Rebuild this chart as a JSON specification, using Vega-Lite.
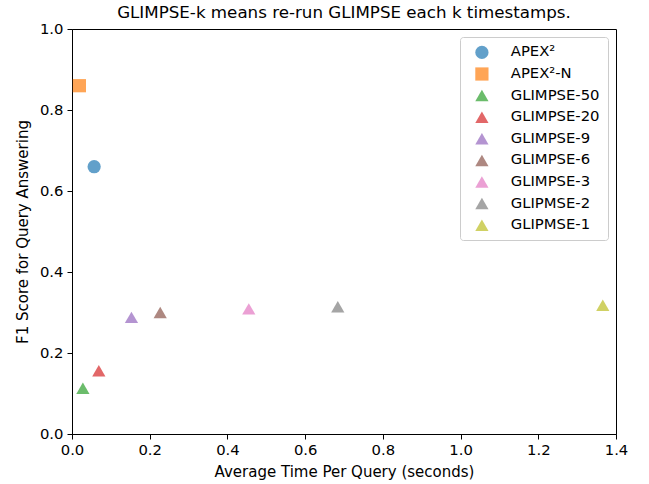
{
  "$schema": "https://vega.github.io/schema/vega-lite/v6.json",
  "autosize": "none",
  "width": 544,
  "height": 405,
  "padding": {"left": 72, "top": 29, "right": 33, "bottom": 50},
  "background": "white",
  "config": {
    "font": "DejaVu Sans",
    "view": {"stroke": "black", "strokeWidth": 1},
    "axis": {
      "grid": false,
      "domainColor": "black",
      "tickColor": "black",
      "tickSize": 5,
      "labelFontSize": 14.8,
      "labelColor": "black",
      "titleFontSize": 15,
      "titleFontWeight": "normal",
      "titleColor": "black",
      "labelPadding": 3,
      "labelFlush": false
    }
  },
  "title": {
    "text": "GLIMPSE-k means re-run GLIMPSE each k timestamps.",
    "fontSize": 16.7,
    "fontWeight": "normal",
    "color": "black",
    "offset": -1,
    "anchor": "middle"
  },
  "data": {
    "values": [
      {"method": "APEX²", "time": 0.057, "f1": 0.66},
      {"method": "APEX²-N", "time": 0.019, "f1": 0.86},
      {"method": "GLIMPSE-50", "time": 0.028, "f1": 0.113},
      {"method": "GLIMPSE-20", "time": 0.069, "f1": 0.156},
      {"method": "GLIMPSE-9", "time": 0.153, "f1": 0.288},
      {"method": "GLIMPSE-6", "time": 0.227, "f1": 0.300},
      {"method": "GLIMPSE-3", "time": 0.455, "f1": 0.309},
      {"method": "GLIPMSE-2", "time": 0.684, "f1": 0.314},
      {"method": "GLIPMSE-1", "time": 1.366, "f1": 0.318}
    ]
  },
  "mark": {"type": "point", "filled": true, "opacity": 0.7, "size": 175, "clip": false},
  "encoding": {
    "x": {
      "field": "time",
      "type": "quantitative",
      "scale": {"domain": [0, 1.4], "nice": false, "zero": false},
      "axis": {"values": [0, 0.2, 0.4, 0.6, 0.8, 1.0, 1.2, 1.4], "format": ".1f", "title": "Average Time Per Query (seconds)", "titlePadding": 8}
    },
    "y": {
      "field": "f1",
      "type": "quantitative",
      "scale": {"domain": [0, 1.0], "nice": false, "zero": false},
      "axis": {"values": [0, 0.2, 0.4, 0.6, 0.8, 1.0], "format": ".1f", "title": "F1 Score for Query Answering", "titlePadding": 9, "labelPadding": 4}
    },
    "color": {
      "field": "method",
      "type": "nominal",
      "scale": {
        "domain": ["APEX²", "APEX²-N", "GLIMPSE-50", "GLIMPSE-20", "GLIMPSE-9", "GLIMPSE-6", "GLIMPSE-3", "GLIPMSE-2", "GLIPMSE-1"],
        "range": ["#1f77b4", "#ff7f0e", "#2ca02c", "#d62728", "#9467bd", "#8c564b", "#e377c2", "#7f7f7f", "#bcbd22"]
      },
      "legend": {
        "title": null,
        "orient": "top-right",
        "offset": 8,
        "padding": 8,
        "strokeColor": "#cccccc",
        "fillColor": "white",
        "cornerRadius": 3,
        "labelFontSize": 14.8,
        "labelColor": "black",
        "symbolSize": 175,
        "symbolStrokeWidth": 0,
        "rowPadding": 5.6,
        "labelOffset": 21.5,
        "symbolOffset": 6.5
      }
    },
    "shape": {
      "field": "method",
      "type": "nominal",
      "scale": {
        "domain": ["APEX²", "APEX²-N", "GLIMPSE-50", "GLIMPSE-20", "GLIMPSE-9", "GLIMPSE-6", "GLIMPSE-3", "GLIPMSE-2", "GLIPMSE-1"],
        "range": ["circle", "square", "triangle-up", "triangle-up", "triangle-up", "triangle-up", "triangle-up", "triangle-up", "triangle-up"]
      }
    }
  }
}
